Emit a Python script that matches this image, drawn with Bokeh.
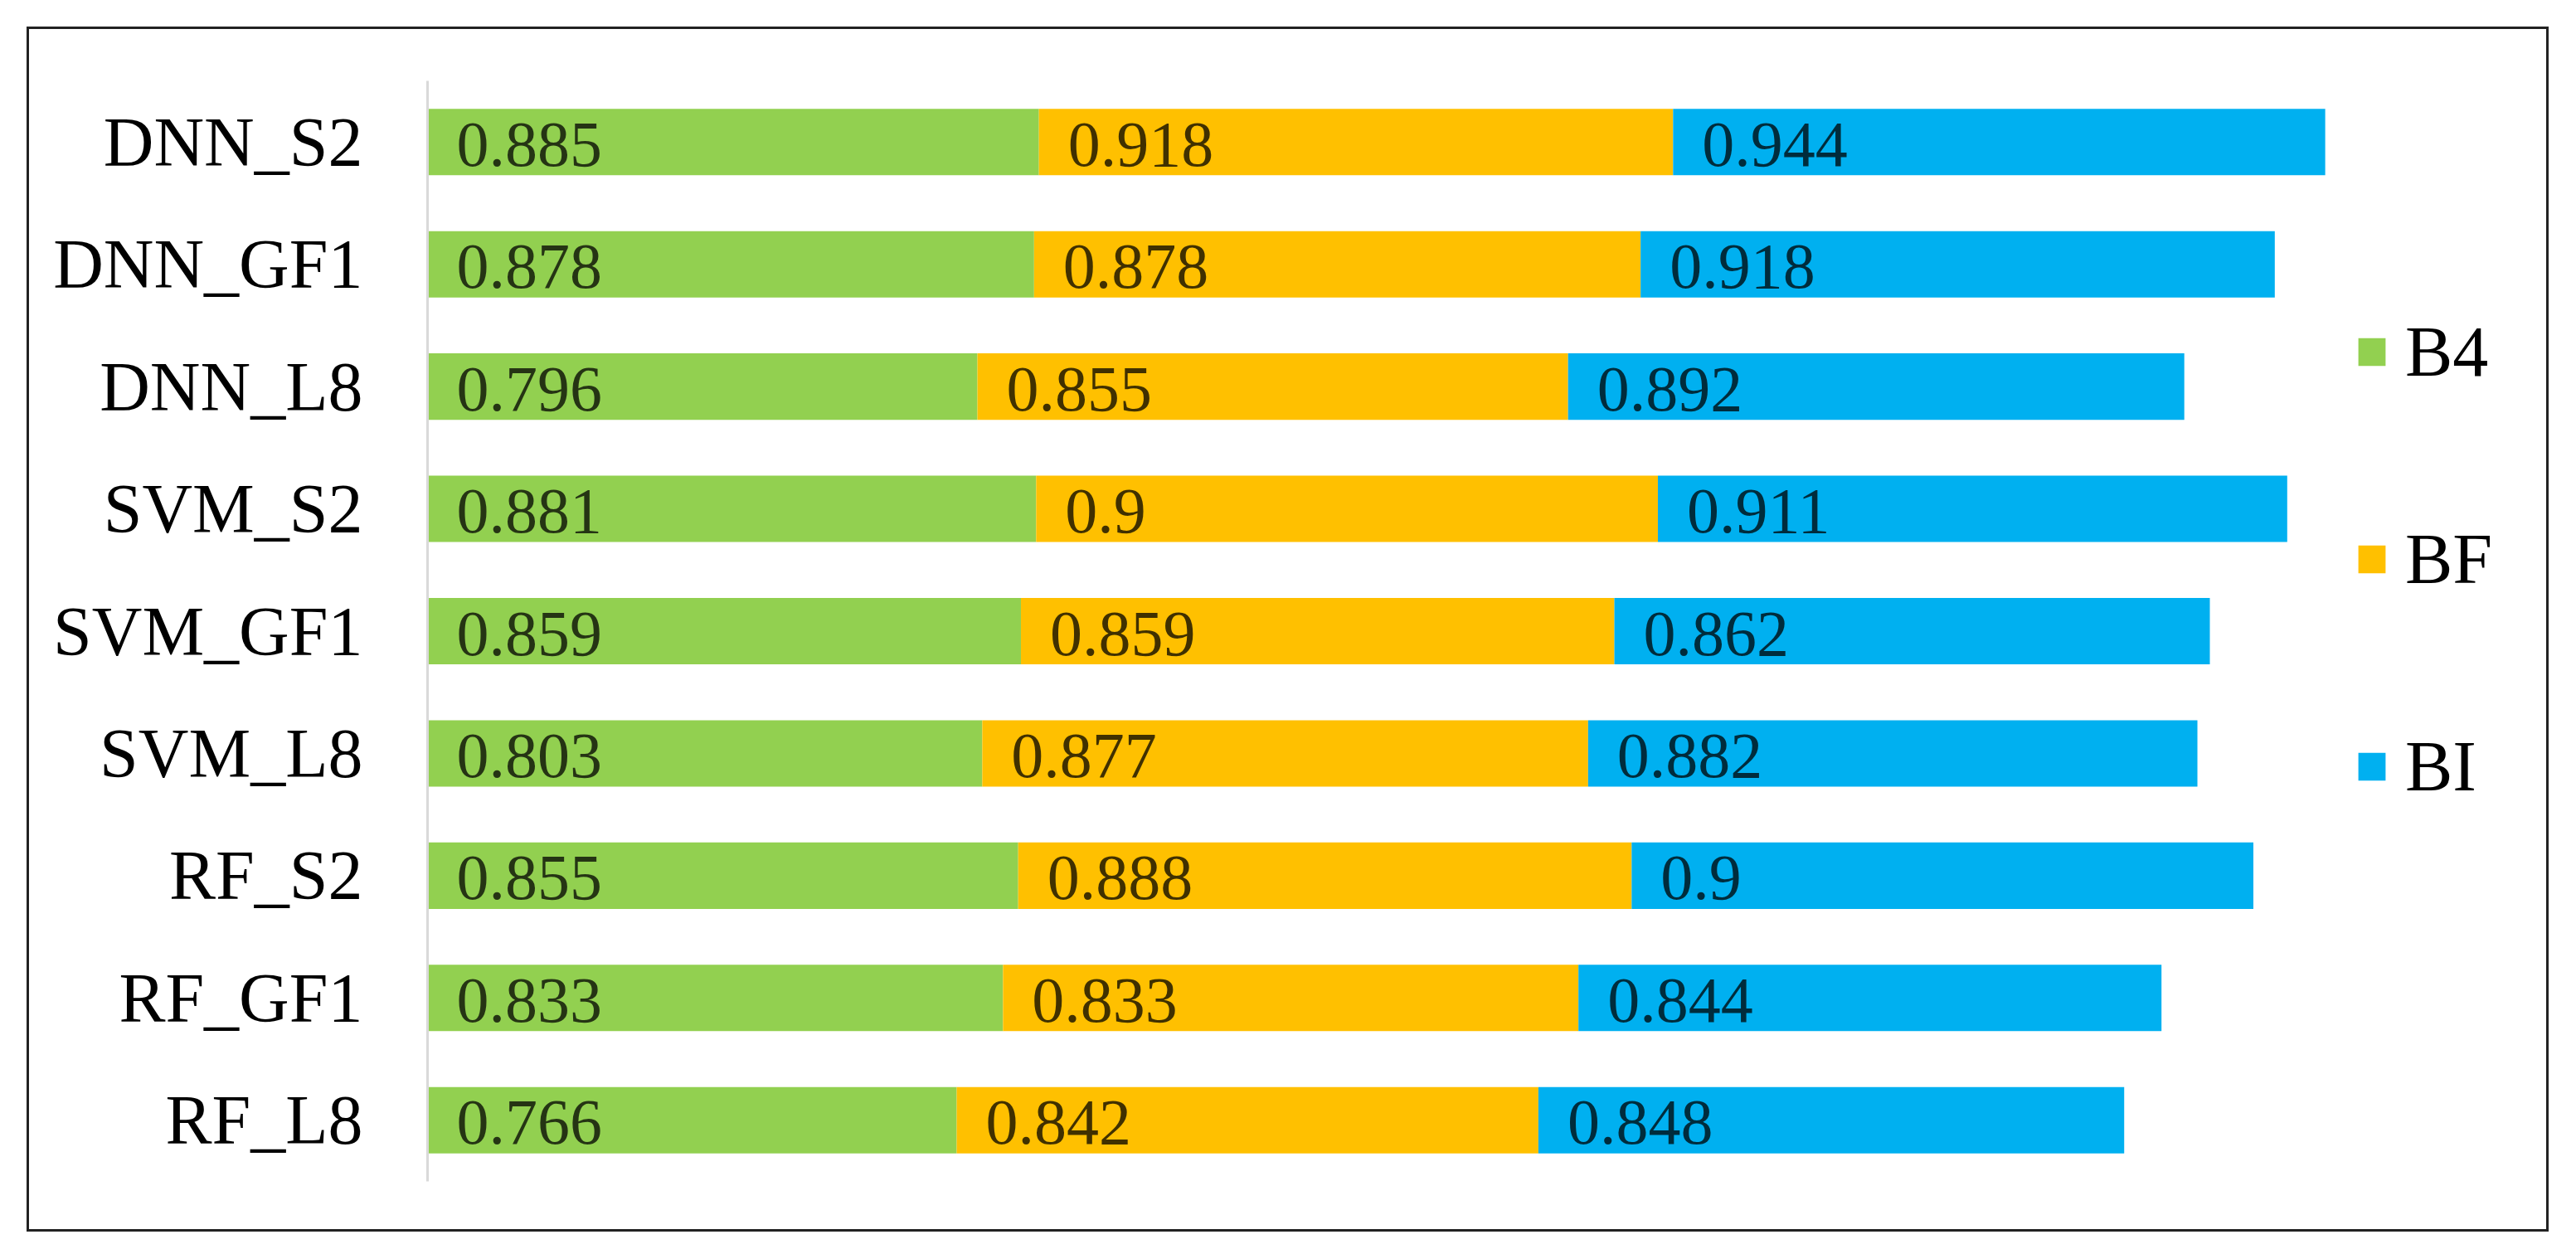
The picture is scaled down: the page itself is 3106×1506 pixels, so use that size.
from bokeh.plotting import figure
from bokeh.models import ColumnDataSource, FactorRange, Range1d, Legend
from bokeh.core.properties import value
from bokeh.embed import file_html
from bokeh.resources import INLINE
import numpy as np

models = ["DNN_S2", "DNN_GF1", "DNN_L8", "SVM_S2", "SVM_GF1", "SVM_L8", "RF_S2", "RF_GF1", "RF_L8"]
b4 = [0.885, 0.878, 0.796, 0.881, 0.859, 0.803, 0.855, 0.833, 0.766]
bf = [0.918, 0.878, 0.855, 0.900, 0.859, 0.877, 0.888, 0.833, 0.842]
bi = [0.944, 0.918, 0.892, 0.911, 0.862, 0.882, 0.900, 0.844, 0.848]
b4_txt = ["0.885", "0.878", "0.796", "0.881", "0.859", "0.803", "0.855", "0.833", "0.766"]
bf_txt = ["0.918", "0.878", "0.855", "0.9", "0.859", "0.877", "0.888", "0.833", "0.842"]
bi_txt = ["0.944", "0.918", "0.892", "0.911", "0.862", "0.882", "0.9", "0.844", "0.848"]
series = ["B4", "BF", "BI"]
colors = ["#92D050", "#FFC000", "#00B0F0"]

FONT = "Liberation Serif"

src = ColumnDataSource(dict(model=models, B4=b4, BF=bf, BI=bi))

W, H = 3041, 1453
p = figure(width=W, height=H, output_backend="svg", toolbar_location=None,
           y_range=FactorRange(factors=models[::-1], range_padding=0),
           x_range=Range1d(0, 3.059),
           min_border_left=480, min_border_right=13, min_border_top=62, min_border_bottom=64)
p.styles = {"margin-left": "32px", "margin-top": "32px", "border": "3px solid #222222",
            "box-sizing": "border-box"}

rs = p.hbar_stack(series, y="model", height=0.543, color=colors, line_color=None, source=src)

# value labels at the start of each segment
b4a = np.array(b4); bfa = np.array(bf)
starts = [np.zeros(len(models)), b4a, b4a + bfa]
texts = [b4_txt, bf_txt, bi_txt]
for st, tx in zip(starts, texts):
    s = ColumnDataSource(dict(x=list(st), y=models, t=tx))
    p.text(x="x", y="y", text="t", source=s, x_offset=35, y_offset=3,
           text_font=value(FONT), text_font_size="78px", text_baseline="middle",
           text_align="left", text_color="#000000", text_alpha=0.75)

legend = Legend(items=[(n, [r]) for n, r in zip(series, rs)], location=(2324, 450))
legend.label_text_font = FONT
legend.label_text_font_size = "86px"
legend.label_text_color = "#000000"
legend.glyph_width = 41
legend.glyph_height = 42
legend.label_standoff = 20
legend.spacing = 150
legend.padding = 0
legend.margin = 0
legend.border_line_color = None
legend.background_fill_alpha = 0
p.add_layout(legend)

p.xaxis.visible = False
p.xgrid.visible = False
p.ygrid.visible = False
p.outline_line_color = None
yax = p.yaxis[0]
yax.axis_line_color = "#D9D9D9"
yax.axis_line_width = 3
yax.major_tick_line_color = None
yax.minor_tick_line_color = None
yax.major_label_text_font = FONT
yax.major_label_text_font_size = "84px"
yax.major_label_text_color = "#000000"
yax.major_label_standoff = 72

open("out.html", "w").write(file_html(p, INLINE))
